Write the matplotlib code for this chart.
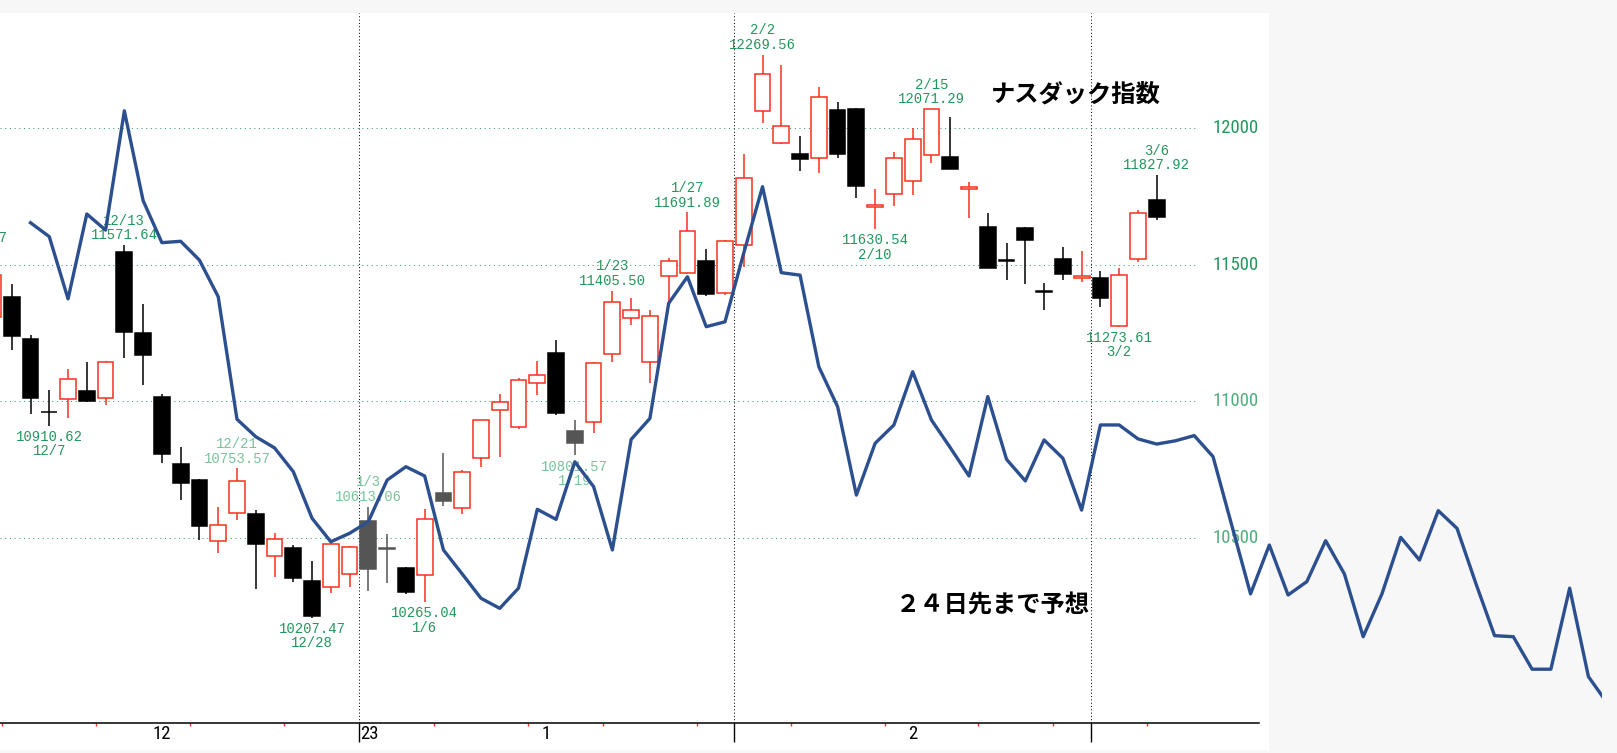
import datetime as dt
import matplotlib
matplotlib.use("Agg")
import matplotlib.pyplot as plt
from matplotlib import font_manager
from matplotlib.patches import Rectangle
from matplotlib.transforms import Bbox, TransformedBbox, blended_transform_factory
import numpy as np

# trading days shown (US dates)
dates = ['2022-12-01', '2022-12-02', '2022-12-05', '2022-12-06', '2022-12-07', '2022-12-08', '2022-12-09',
         '2022-12-12', '2022-12-13', '2022-12-14', '2022-12-15', '2022-12-16', '2022-12-19', '2022-12-20',
         '2022-12-21', '2022-12-22', '2022-12-23', '2022-12-27', '2022-12-28', '2022-12-29', '2022-12-30',
         '2023-01-03', '2023-01-04', '2023-01-05', '2023-01-06', '2023-01-09', '2023-01-10', '2023-01-11',
         '2023-01-12', '2023-01-13', '2023-01-17', '2023-01-18', '2023-01-19', '2023-01-20', '2023-01-23',
         '2023-01-24', '2023-01-25', '2023-01-26', '2023-01-27', '2023-01-30', '2023-01-31',
         '2023-02-01', '2023-02-02', '2023-02-03', '2023-02-06', '2023-02-07', '2023-02-08', '2023-02-09',
         '2023-02-10', '2023-02-13', '2023-02-14', '2023-02-15', '2023-02-16', '2023-02-17', '2023-02-21',
         '2023-02-22', '2023-02-23', '2023-02-24', '2023-02-27', '2023-02-28',
         '2023-03-01', '2023-03-02', '2023-03-03', '2023-03-06']

opens = [11520, 11310, 11383, 11228, 10962, 11007, 11037, 11013, 11546, 11251, 11014, 10769, 10711, 10489,
         10589, 10587, 10434, 10463, 10341, 10320, 10367,
         10562, 10461, 10390, 10363, 10663, 10608, 10793, 10968, 10904, 11068, 11176, 10891, 10923, 11173,
         11304, 11145, 11459, 11471, 11514, 11398,
         11572, 12063, 11945, 11906, 11890, 12067, 12070, 11712, 11758, 11807, 11902, 11896, 11777, 11640,
         11519, 11636, 11405, 11520, 11450,
         11450, 11274, 11521, 11737]
highs = [11560.87, 11480, 11428, 11243, 11041, 11117, 11145, 11147, 11571.64, 11356, 11027, 10831, 10714, 10611,
         10753.57, 10601, 10516, 10473, 10415, 10482, 10468,
         10613.06, 10514, 10392, 10604, 10809, 10748, 10932, 11027, 11084, 11147, 11224, 10931, 11145, 11405.50,
         11377, 11334, 11524, 11691.89, 11557, 11590,
         11906, 12269.56, 12232, 11973, 12150, 12097, 12073, 11777, 11914, 12000, 12071.29, 12042, 11804, 11689,
         11581, 11640, 11434, 11564, 11552,
         11478, 11487, 11701, 11827.92]
lows = [11410, 11300, 11188, 10952, 10910.62, 10937, 10998, 10986, 11157, 11059, 10775, 10638, 10492, 10443,
        10565, 10311, 10355, 10339, 10207.47, 10298, 10320,
        10306, 10333, 10294, 10265.04, 10616, 10587, 10760, 10795, 10897, 11023, 10950, 10801.57, 10885, 11145,
        11279, 11066, 11359, 11465, 11386, 11390,
        11493, 12021, 11943, 11845, 11835, 11890, 11744, 11630.54, 11715, 11756, 11874, 11850, 11670, 11488,
        11444, 11430, 11334, 11444, 11438,
        11346, 11273.61, 11511, 11664]
closes = [11482, 11461, 11239, 11011, 10959, 11081, 11001, 11145, 11255, 11169, 10806, 10699, 10543, 10547,
          10708, 10476, 10494, 10351, 10213, 10477, 10467,
          10384, 10457, 10302, 10567, 10636, 10742, 10931, 10998, 11078, 11096, 10956, 10848, 11141, 11362,
          11334, 11312, 11514, 11624, 11393, 11587,
          11817, 12199, 12008, 11886, 12114, 11906, 11789, 11719, 11890, 11960, 12070, 11851, 11786, 11489,
          11513, 11591, 11399, 11466, 11458,
          11379, 11462, 11691, 11674]

# candles that look greyed out in the picture
grey_days = ['2023-01-03', '2023-01-04', '2023-01-09', '2023-01-19']

# high / low call-outs
label_days = ['2022-12-01', '2022-12-07', '2022-12-13', '2022-12-21', '2022-12-28', '2023-01-03', '2023-01-06',
              '2023-01-19', '2023-01-23', '2023-01-27', '2023-02-02', '2023-02-10', '2023-02-15', '2023-03-02',
              '2023-03-06']
label_kinds = ['high', 'low', 'high', 'high', 'low', 'high', 'low',
               'low', 'high', 'high', 'high', 'low', 'high', 'low', 'high']
faded_labels = ['2022-12-21', '2023-01-03', '2023-01-19']

# prediction line, one value per trading day from 12/6, runs 24 days past the last candle
forecast_start = '2022-12-06'
forecast = [11654, 11603, 11375, 11686, 11627, 12064, 11735, 11581, 11586, 11517, 11383, 10934, 10870,
            10829, 10742, 10571, 10485, 10516,
            10559, 10711, 10760, 10726, 10455, 10367, 10278, 10241, 10315, 10604, 10567, 10778, 10687,
            10455, 10860, 10937, 11359, 11456, 11273, 11291,
            11543, 11786, 11471, 11462, 11126, 10980, 10656, 10846, 10913, 11108, 10931, 10830, 10726,
            11017, 10787, 10708, 10858, 10791, 10601,
            10913, 10913, 10862, 10843,
            10855, 10874, 10797, 10545, 10294, 10473, 10290, 10339, 10489, 10367, 10137, 10294,
            10501, 10418, 10599, 10534, 10333, 10141, 10137, 10018, 10018, 10315, 9991, 9894]

grid_levels = [12000, 11500, 11000, 10500]
title_text = 'ナスダック指数'
note_text = '２４日先まで予想'

RED = '#f8301e'
GREEN = '#24965c'
FADED = '#78c49a'
BLUE = '#2c4f8f'

installed = {f.name for f in font_manager.fontManager.ttflist}


def pick(names):
    for n in names:
        if n in installed:
            return n
    return None


# the scale digits are narrow and tall; use a condensed face when there is one
narrow = pick(['Liberation Sans Narrow', 'DejaVu Sans Condensed', 'Noto Sans Condensed',
               'Roboto Condensed', 'Open Sans Condensed'])
if narrow:
    AXFONT, AXSIZE, MSIZE = [narrow, 'DejaVu Sans'], 13.5, 13.5
else:
    AXFONT, AXSIZE, MSIZE = ['Roboto', 'DejaVu Sans'], 12, 13
NUMFONT = ['Liberation Mono', 'DejaVu Sans Mono']
JPFONT = ['Noto Sans CJK JP', 'DejaVu Sans']

W, H = 1617, 753
fig = plt.figure(figsize=(W / 100, H / 100), dpi=100, facecolor='#f7f7f7')
fig.add_artist(Rectangle((0, 3 / H), 1269 / W, 737 / H, transform=fig.transFigure,
                         facecolor='white', edgecolor='none', zorder=-1))
ax = fig.add_axes([0, (H - 722.7) / H, 1259 / W, (722.7 - 13) / H])
ax.set_facecolor('none')
ax.set_xlim(1.375, 68.45)
ax.set_ylim(9822, 12422.5)

days = [dt.date.fromisoformat(d) for d in dates]
x = np.arange(len(dates))

# candles
for i in x:
    o, h, l, c = opens[i], highs[i], lows[i], closes[i]
    if dates[i] in grey_days:
        col, fill = '#555555', '#555555'
    elif c >= o:
        col, fill = RED, 'white'
    else:
        col, fill = 'black', 'black'
    ax.vlines(i, l, h, color=col, lw=1.1, zorder=2)
    ax.add_patch(Rectangle((i - 0.42, min(o, c)), 0.84, max(abs(c - o), 1.5),
                           facecolor=fill, edgecolor=col, lw=1.1, zorder=3))

# grid + right side scale
trans = blended_transform_factory(ax.transAxes, ax.transData)
for v in grid_levels:
    ax.axhline(v, xmin=0, xmax=1195 / 1259, color='#2e9a62', lw=0.72, ls=(0, (1, 3.7)), zorder=1)
    ax.text(1.0, v, str(v), transform=trans, ha='right', va='center', fontsize=AXSIZE,
            color=GREEN if v >= 11500 else '#4fae7c', family=AXFONT)

# month boundaries and weekly marks
bounds = [i - 0.5 for i in x[1:] if days[i].month != days[i - 1].month]
weeks = [i - 0.5 for i in x[1:] if days[i].weekday() < days[i - 1].weekday() and i - 0.5 not in bounds]
for b in bounds:
    ax.axvline(b, color='black', lw=0.72, ls=(0, (1, 2.3)), zorder=1)
ax.set_xticks(bounds)
ax.set_xticklabels([])
ax.set_xticks(weeks, minor=True)
ax.tick_params(axis='x', which='major', length=14, width=1.0, color='black', direction='out')
ax.tick_params(axis='x', which='minor', length=2.2, width=1.0, color=RED, direction='out')
ax.set_yticks([])
for s in ['top', 'left', 'right']:
    ax.spines[s].set_visible(False)
ax.spines['bottom'].set_linewidth(1.1)

# month names under the axis (only for full months), year at the year change
months = sorted(set((d.year, d.month) for d in days))
for yr, mo in months:
    idx = [i for i in x if days[i].month == mo and days[i].year == yr]
    if len(idx) < 10:
        continue
    ax.annotate(str(mo), (np.mean(idx), 0), xycoords=('data', 'axes fraction'), xytext=(0, -7.8),
                textcoords='offset points', ha='center', va='center', fontsize=MSIZE,
                family=AXFONT, annotation_clip=False)
for b in bounds:
    i = int(b + 0.5)
    if days[i].year != days[i - 1].year:
        ax.annotate(str(days[i].year)[2:], (b, 0), xycoords=('data', 'axes fraction'), xytext=(1.0, -7.8),
                    textcoords='offset points', ha='left', va='center', fontsize=MSIZE,
                    family=AXFONT, annotation_clip=False)

# high / low labels
for d, kind in zip(label_days, label_kinds):
    i = dates.index(d)
    md = f"{days[i].month}/{days[i].day}"
    col = FADED if d in faded_labels else GREEN
    if kind == 'high':
        ax.annotate(f"{md}\n{highs[i]:.2f}", (i, highs[i]), xytext=(0, 2), textcoords='offset points',
                    ha='center', va='bottom', fontsize=10, color=col, family=NUMFONT,
                    linespacing=1.05, annotation_clip=False, zorder=4)
    else:
        ax.annotate(f"{lows[i]:.2f}\n{md}", (i, lows[i]), xytext=(0, -3), textcoords='offset points',
                    ha='center', va='top', fontsize=10, color=col, family=NUMFONT,
                    linespacing=1.05, annotation_clip=False, zorder=4)

# prediction line, runs out of the chart panel
fx = np.arange(len(forecast)) + dates.index(forecast_start)
ln, = ax.plot(fx, forecast, color=BLUE, lw=2.4, zorder=5, solid_joinstyle='round')
ln.set_clip_box(TransformedBbox(Bbox([[0, 0], [1602 / W, 1]]), fig.transFigure))

fig.text(991 / W, 1 - 95 / H, title_text, fontsize=17.5, family=JPFONT, weight='bold',
         ha='left', va='center')
fig.text(896 / W, 1 - 605 / H, note_text, fontsize=17.5, family=JPFONT, weight='bold',
         ha='left', va='center')

fig.savefig('out.png', dpi=100, facecolor=fig.get_facecolor())
